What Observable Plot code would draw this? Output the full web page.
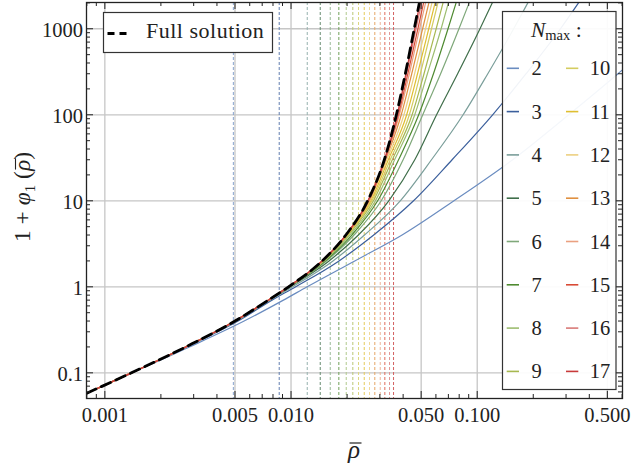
<!DOCTYPE html>
<html><head><meta charset="utf-8">
<script src="https://cdn.jsdelivr.net/npm/d3@7"></script>
<script src="https://cdn.jsdelivr.net/npm/@observablehq/plot@0.6"></script>
<style>body{margin:0;background:#fff;} svg{display:block}</style>
</head><body><div id="chart"></div>
<script>
// ---- data ----
const nmax = [2,3,4,5,6,7,8,9,10,11,12,13,14,15,16,17];
const nColors = ["#6a8cc0","#3b5f9c","#7a9e9a","#3f6e4a","#7fa87a","#4e8a30","#9dbd70","#a7b850",
                 "#d4cc60","#dfbe30","#ecd080","#e09040","#eaa080","#d84a35","#d87a78","#c83a3a"];
// y-levels at which the x position of each curve was read
const yLevels = [0.058, 0.1, 0.2, 0.4, 0.7, 1, 2, 4, 10, 30, 100, 300, 1000, 2000];
const fullX = [0.0008,0.00139,0.00272,0.0050,0.00755,0.0097,0.0147,0.0197,0.0258,0.0317,0.0368,0.0411,0.0459,0.0489];
const xN2  = [0.0008,0.0014,0.00285,0.0056,0.0091,0.0122,0.022,0.0395,0.075,0.155,0.31,0.57,1.07,null];
const xN3  = [0.0008,0.00139,0.00274,0.0052,0.0079,0.0106,0.0181,0.0278,0.0455,0.0733,0.121,0.183,0.280,0.350];
const xN4  = [0.0008,0.00139,0.00272,0.0051,0.0077,0.0102,0.0168,0.0248,0.0386,0.0568,0.0840,0.114,0.157,0.187];
const xN5  = [0.0008,0.00139,0.00272,0.0050,0.0076,0.0099,0.0160,0.0230,0.0335,0.0462,0.0605,0.0785,0.1035,0.1204];
const xN6  = [0.0008,0.00139,0.00272,0.0050,0.00755,0.0098,0.0155,0.0218,0.0305,0.0400,0.0510,0.0636,0.0798,0.0905];
const xN7  = [0.0008,0.00139,0.00272,0.0050,0.00755,0.0098,0.0153,0.0212,0.0292,0.0378,0.0485,0.0582,0.0697,0.0770];
const xN8  = [0.0008,0.00139,0.00272,0.0050,0.00755,0.0097,0.0151,0.0207,0.0284,0.0360,0.0462,0.0540,0.0640,0.0700];
const xN9  = [0.0008,0.00139,0.00272,0.0050,0.00755,0.0097,0.0150,0.0203,0.0277,0.0350,0.0447,0.0518,0.0602,0.0655];
const xN10 = [0.0008,0.00139,0.00272,0.0050,0.00755,0.0097,0.0149,0.0201,0.0272,0.0341,0.0432,0.0495,0.0568,0.0615];
const xN11 = [0.0008,0.00139,0.00272,0.0050,0.00755,0.0097,0.0148,0.0200,0.0268,0.0333,0.0418,0.0478,0.0549,0.0594];
const xN12 = [0.0008,0.00139,0.00272,0.0050,0.00755,0.0097,0.0147,0.0199,0.0265,0.0327,0.0404,0.0461,0.0528,0.0571];
const xN13 = [0.0008,0.00139,0.00272,0.0050,0.00755,0.0097,0.0147,0.0198,0.0263,0.0322,0.0391,0.0445,0.0509,0.0550];
const xN14 = [0.0008,0.00139,0.00272,0.0050,0.00755,0.0097,0.0147,0.0197,0.0261,0.0320,0.0382,0.0432,0.0490,0.0528];
const xN15 = [0.0008,0.00139,0.00272,0.0050,0.00755,0.0097,0.0147,0.0197,0.0260,0.0319,0.0377,0.0424,0.0480,0.0515];
const xN16 = [0.0008,0.00139,0.00272,0.0050,0.00755,0.0097,0.0147,0.0197,0.0259,0.0318,0.0374,0.0418,0.0469,0.0502];
const xN17 = [0.0008,0.00139,0.00272,0.0050,0.00755,0.0097,0.0147,0.0197,0.0259,0.0318,0.0372,0.0414,0.0462,0.0493];
// vertical dashed markers, one per N_max
const poleX = [0.0049,0.00864,0.01222,0.01435,0.01624,0.01806,0.01979,0.02147,0.02304,0.02473,0.0264,0.02818,0.03014,0.0319,0.03381,0.03553];
const xMajor = [0.001, 0.005, 0.01, 0.05, 0.1, 0.5];
const xLabels = ["0.001","0.005","0.010","0.050","0.100","0.500"];
const yMajor = [0.1, 1, 10, 100, 1000];
const yLabels = ["0.1","1","10","100","1000"];

// ---- build tables ----
const curveXs = [xN2,xN3,xN4,xN5,xN6,xN7,xN8,xN9,xN10,xN11,xN12,xN13,xN14,xN15,xN16,xN17];
const rows = [];
nmax.forEach((n, i) => curveXs[i].forEach((x, j) => { if (x != null) rows.push({n, x, y: yLevels[j], c: nColors[i]}); }));
const fullRows = fullX.map((x, j) => ({x, y: yLevels[j]}));
const poles = poleX.map((x, i) => ({x, c: d3.interpolateRgb(nColors[i], "#ffffff")(0.2)}));

const xDomain = [0.000797, 0.603], yDomain = [0.0503, 2020];
const xMinor = [], yMinor = [];
for (let e = -4; e <= 0; e++) for (let m = 1; m <= 9; m++) {
  const v = +(m * Math.pow(10, e)).toPrecision(3);
  if (v >= xDomain[0] && v <= xDomain[1] && m !== 1 && m !== 5) xMinor.push(v);
}
for (let e = -2; e <= 3; e++) for (let m = 2; m <= 9; m++) {
  const v = +(m * Math.pow(10, e)).toPrecision(3);
  if (v >= yDomain[0] && v <= yDomain[1]) yMinor.push(v);
}

const W = 631, H = 470, mL = 86, mR = 9, mT = 2, mB = 72;
const fw = W - mL - mR, fh = H - mT - mB;
const FONT = "'Liberation Serif', 'DejaVu Serif', serif";
const tk = "#222";

const svg = Plot.plot({
  width: W, height: H, marginLeft: mL, marginRight: mR, marginTop: mT, marginBottom: mB,
  style: {fontFamily: FONT, fontSize: "20px", background: "#fff", color: "#222"},
  x: {type: "log", domain: xDomain, axis: null},
  y: {type: "log", domain: yDomain, axis: null},
  color: {type: "identity"},
  marks: [
    Plot.ruleX(xMajor, {x: d => d, stroke: "#c6c6c6", strokeWidth: 1.3}),
    Plot.ruleY(yMajor, {y: d => d, stroke: "#c6c6c6", strokeWidth: 1.3}),
    Plot.ruleX(poles, {x: "x", stroke: "c", strokeWidth: 1, strokeDasharray: "3,2"}),
    Plot.line(rows, {x: "x", y: "y", z: "n", stroke: "c", strokeWidth: 1.2, curve: "monotone-x", clip: true}),
    Plot.line(fullRows, {x: "x", y: "y", stroke: "#000", strokeWidth: 2.8, strokeDasharray: "10,6", curve: "monotone-x", clip: true}),
    Plot.tickX(xMajor, {x: d => d, insetTop: fh - 7, stroke: tk}),
    Plot.tickX(xMinor, {x: d => d, insetTop: fh - 4, stroke: tk}),
    Plot.tickX(xMajor, {x: d => d, insetBottom: fh - 7, stroke: tk}),
    Plot.tickX(xMinor, {x: d => d, insetBottom: fh - 4, stroke: tk}),
    Plot.tickY(yMajor, {y: d => d, insetRight: fw - 7, stroke: tk}),
    Plot.tickY(yMinor, {y: d => d, insetRight: fw - 4, stroke: tk}),
    Plot.tickY(yMajor, {y: d => d, insetLeft: fw - 7, stroke: tk}),
    Plot.tickY(yMinor, {y: d => d, insetLeft: fw - 4, stroke: tk}),
    Plot.frame({stroke: "#222", strokeWidth: 1.3}),
    Plot.text(xMajor, {x: d => d, text: (d, i) => xLabels[i], frameAnchor: "bottom", dy: 23, fontSize: 20.5, fill: "#222"}),
    Plot.text(yMajor, {y: d => d, text: (d, i) => yLabels[i], frameAnchor: "left", dx: -3.5, dy: 1.5, textAnchor: "end", fontSize: 20.5, fill: "#222"})
  ]
});
document.getElementById("chart").appendChild(svg);

// ---- labels and legends (SVG decorations) ----
const s = d3.select(svg);
const g = s.append("g").attr("font-family", FONT).attr("fill", "#222").attr("text-anchor", "start");

// draws a bar over character idx of a text element (in the text's own coordinates)
function overbar(parent, textSel, idx, lift, w) {
  const node = textSel.node();
  const p0 = node.getStartPositionOfChar(idx), p1 = node.getEndPositionOfChar(idx);
  const ext = node.getExtentOfChar(idx);
  const y = ext.y + lift;
  parent.append("line").attr("x1", p0.x + 1.5).attr("x2", p1.x + 1.5).attr("y1", y).attr("y2", y)
    .attr("stroke", "#222").attr("stroke-width", w);
}

// y-axis label
const yg = g.append("g").attr("transform", "translate(30,197) rotate(-90)");
const yl = yg.append("text").attr("text-anchor", "middle").attr("font-size", 23.5);
yl.append("tspan").text("1 + ");
yl.append("tspan").attr("font-style", "italic").text("\u03C6");
yl.append("tspan").attr("font-size", 15).attr("dy", 5).text("1");
yl.append("tspan").attr("dy", -5).text(" (");
yl.append("tspan").attr("font-style", "italic").text("\u03C1");
yl.append("tspan").text(")");
overbar(yg, yl, 8, 6.5, 1.1);

// x-axis label
const xg = g.append("g");
const xl = xg.append("text").attr("x", 354).attr("y", 458).attr("text-anchor", "middle")
  .attr("font-size", 25).attr("font-style", "italic").text("\u03C1");
overbar(xg, xl, 0, 7, 1.2);

// Full solution legend
g.append("rect").attr("x", 103.5).attr("y", 12.5).attr("width", 169).attr("height", 40)
  .attr("fill", "#fff").attr("stroke", "#333").attr("stroke-width", 1.2);
g.append("line").attr("x1", 107.5).attr("x2", 128.5).attr("y1", 33.5).attr("y2", 33.5)
  .attr("stroke", "#000").attr("stroke-width", 2.8).attr("stroke-dasharray", "7,5");
g.append("text").attr("x", 146).attr("y", 37.5).attr("font-size", 22).attr("letter-spacing", 0.5).text("Full solution");

// N_max legend
g.append("rect").attr("x", 502.5).attr("y", 11.5).attr("width", 113.5).attr("height", 378)
  .attr("fill", "#fff").attr("fill-opacity", 0.93).attr("stroke", "#333").attr("stroke-width", 1.2);
const tt = g.append("text").attr("x", 531).attr("y", 37).attr("font-size", 21.5);
tt.append("tspan").attr("font-style", "italic").text("N");
tt.append("tspan").attr("font-size", 14.5).attr("dy", 3).text("max");
tt.append("tspan").attr("dy", -3).text(" :");
nmax.forEach((n, i) => {
  const col = i < 8 ? 0 : 1, row = i % 8;
  const cy = 68.3 + row * 43.3;
  const x0 = col === 0 ? 506.7 : 566, x1 = col === 0 ? 519 : 578.3;
  g.append("line").attr("x1", x0).attr("x2", x1).attr("y1", cy).attr("y2", cy)
    .attr("stroke", nColors[i]).attr("stroke-width", 1.6);
  g.append("text").attr("x", col === 0 ? 536.7 : 600).attr("y", cy + 7).attr("text-anchor", "middle")
    .attr("font-size", 20.5).text(String(n));
});
</script></body></html>
